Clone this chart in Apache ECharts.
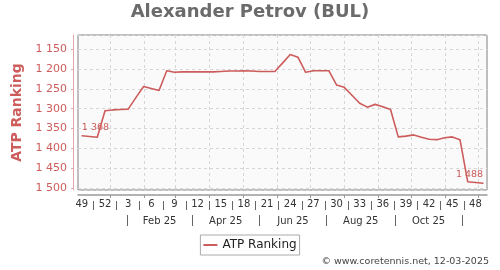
<!DOCTYPE html>
<html>
<head>
<meta charset="utf-8">
<script src="https://cdn.jsdelivr.net/npm/echarts@6/dist/echarts.min.js"></script>
<style>
html,body{margin:0;padding:0;background:#ffffff;}
#chart{width:500px;height:270px;}
</style>
</head>
<body>
<div id="chart"></div>
<script>
// ---- data ----
const weekNumbers = [49,50,51,52,1,2,3,4,5,6,7,8,9,10,11,12,13,14,15,16,17,18,19,20,21,22,23,24,25,26,27,28,29,30,31,32,33,34,35,36,37,38,39,40,41,42,43,44,45,46,47,48,49];
const atpRanking = [1368,1370,1372,1305,1303,1302,1301,1272,1244,1249,1254,1204,1208,1207,1207,1207,1207,1207,1206,1205,1205,1204,1205,1206,1206,1206,1185,1163,1170,1208,1204,1204,1204,1240,1246,1266,1286,1296,1289,1295,1302,1371,1369,1366,1372,1377,1378,1373,1371,1378,1484,1486,1488];
const firstPointDate = '2024-12-06';
const monthStarts = ['2025-01-01','2025-02-01','2025-03-01','2025-04-01','2025-05-01','2025-06-01','2025-07-01','2025-08-01','2025-09-01','2025-10-01','2025-11-01','2025-12-01'];
const periodBreaks = ['2025-01-16','2025-03-16','2025-05-16','2025-07-16','2025-09-16','2025-11-16'];
const periodLabels = ['Feb 25','Apr 25','Jun 25','Aug 25','Oct 25'];
const yRange = [1114, 1505];
const seriesName = 'ATP Ranking';
const chartTitle = 'Alexander Petrov (BUL)';
const creditText = '\u00a9 www.coretennis.net, 12-03-2025';

// ---- helpers ----
const RED = '#cd5c5c';
const FONT = 'DejaVu Sans';
const toIdx = d => (Date.parse(d) - Date.parse(firstPointDate)) / (7 * 864e5);
const fmt = v => String(Math.round(v)).replace(/\B(?=(\d{3})+(?!\d))/g, ' ');
const monthPos = monthStarts.map(toIdx);
const breakPos = periodBreaks.map(toIdx);
const labelPos = periodLabels.map((_, k) => (breakPos[k] + breakPos[k + 1]) / 2);
const weekSepPos = weekNumbers.map((w, i) => (i % 3 === 2 ? i - 0.5 : null)).filter(v => v !== null);
const idxMin = -0.5, idxMax = weekNumbers.length - 0.5;
const lastI = atpRanking.length - 1;

const seriesData = atpRanking.map((v, i) => {
  if (i === 0) return {value: v, label: {show: true, position: 'top', align: 'left', distance: 3}};
  if (i === lastI) return {value: v, label: {show: true, position: 'top', align: 'right', distance: 3}};
  return v;
});

const chart = echarts.init(document.getElementById('chart'), null, {renderer: 'canvas'});
chart.setOption({
  animation: false,
  textStyle: {fontFamily: FONT},
  title: [
    {text: chartTitle, left: 'center', top: 3, padding: 0,
     textStyle: {fontFamily: FONT, fontSize: 18, fontWeight: 'bold', color: '#6b6b6b'}},
    {text: creditText, right: 11, bottom: 3, padding: 0,
     textStyle: {fontFamily: FONT, fontSize: 9.5, fontWeight: 'normal', color: '#444'}}
  ],
  legend: {
    data: [seriesName], left: 'center', top: 235, padding: [4, 3],
    borderColor: '#aaaaaa', borderWidth: 1, borderRadius: 0,
    icon: 'rect', itemWidth: 14, itemHeight: 2, itemGap: 5,
    itemStyle: {color: RED},
    textStyle: {fontFamily: FONT, fontSize: 12, color: '#222'}
  },
  grid: {left: 78, right: 13, top: 35, bottom: 80, show: true,
         backgroundColor: '#fafafa', borderColor: '#808080', borderWidth: 1,
         containLabel: false, outerBoundsMode: 'none'},
  xAxis: [
    { // week labels + axis line
      type: 'category', data: weekNumbers, boundaryGap: true, position: 'bottom', offset: 5,
      axisLine: {show: true, onZero: false, lineStyle: {color: '#999', width: 1.5}},
      axisTick: {show: false},
      axisLabel: {show: true, interval: (i) => i % 3 === 0, margin: 4, fontSize: 10, color: '#333', fontFamily: FONT, hideOverlap: false},
      splitLine: {show: false}
    },
    { // week separators
      type: 'value', min: idxMin, max: idxMax, position: 'bottom', offset: 11,
      axisLine: {show: false, onZero: false},
      axisTick: {show: true, customValues: weekSepPos, length: 9, lineStyle: {color: '#666', width: 1}},
      axisLabel: {show: false},
      splitLine: {show: false}
    },
    { // month gridlines + small ticks
      type: 'value', min: idxMin, max: idxMax, position: 'bottom', offset: 5,
      axisLine: {show: false, onZero: false},
      axisTick: {show: true, customValues: monthPos, length: 3, lineStyle: {color: '#999', width: 1}},
      axisLabel: {show: false},
      splitLine: {show: true, lineStyle: {color: '#d6d6d6', type: [3, 3], width: 1}}
    },
    { // period labels + separators
      type: 'value', min: idxMin, max: idxMax, position: 'bottom', offset: 25,
      axisLine: {show: false, onZero: false},
      axisTick: {show: true, customValues: breakPos, length: 11, lineStyle: {color: '#666', width: 1}},
      axisLabel: {show: true, customValues: labelPos, margin: 1, fontSize: 10, color: '#333', fontFamily: FONT,
        showMinLabel: true, showMaxLabel: true, hideOverlap: false,
        formatter: (v) => { const k = labelPos.findIndex(p => Math.abs(p - v) < 1e-6); return k >= 0 ? periodLabels[k] : ''; }},
      splitLine: {show: false}
    }
  ],
  yAxis: {
    type: 'value', inverse: true, min: yRange[0], max: yRange[1], splitNumber: 8, offset: 5,
    name: seriesName, nameLocation: 'middle', nameGap: 43, nameRotate: 90,
    nameTextStyle: {fontFamily: FONT, fontSize: 14, fontWeight: 'bold', color: RED},
    axisLine: {show: true, onZero: false, lineStyle: {color: '#e0a8a8', width: 1}},
    axisTick: {show: true, length: 2, lineStyle: {color: '#e0a8a8'}},
    axisLabel: {fontSize: 11, color: RED, margin: 6, fontFamily: FONT, showMinLabel: false, showMaxLabel: false, formatter: fmt},
    splitLine: {show: true, lineStyle: {color: '#d6d6d6', type: [3, 3], width: 1}}
  },
  series: [{
    name: seriesName, type: 'line', xAxisIndex: 0, yAxisIndex: 0,
    data: seriesData, symbol: 'circle', symbolSize: 1, showSymbol: true, showAllSymbol: true,
    lineStyle: {color: RED, width: 1.6}, itemStyle: {color: RED},
    label: {fontSize: 9.5, color: RED, fontFamily: FONT, formatter: (p) => fmt(p.value)},
    labelLayout: {hideOverlap: false},
    z: 3
  }]
});
</script>
</body>
</html>
